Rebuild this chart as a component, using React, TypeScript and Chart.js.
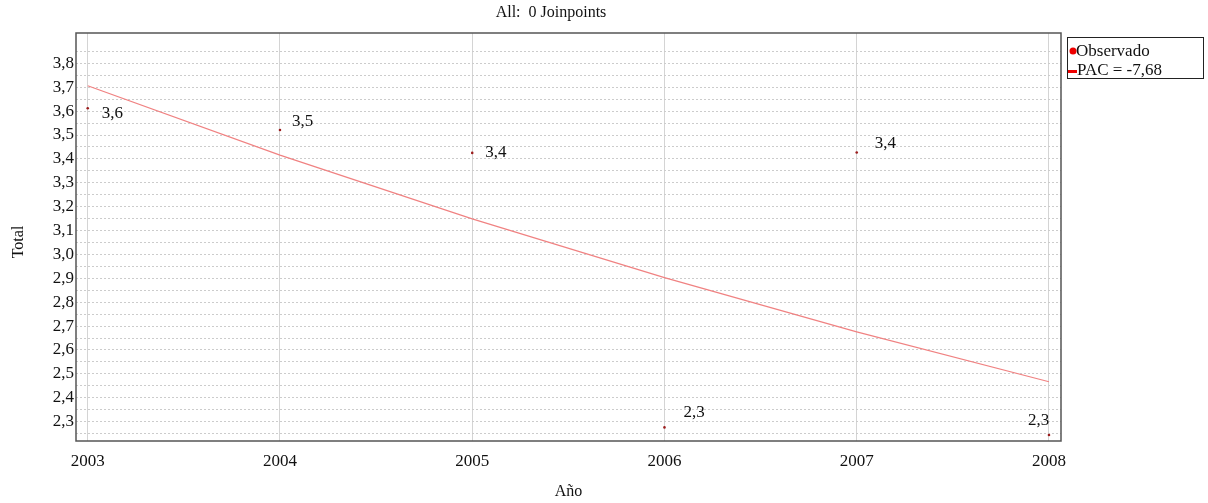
import React, { useEffect, useRef } from "react";
import { Chart, registerables } from "chart.js";

Chart.register(...registerables);

const years = [2003, 2004, 2005, 2006, 2007, 2008];
const observed = [3.612, 3.521, 3.425, 2.276, 3.427, 2.244];
const observedLabels = ["3,6", "3,5", "3,4", "2,3", "3,4", "2,3"];
const fitted = [3.706, 3.416, 3.149, 2.903, 2.676, 2.467];
const titleText = "All:  0 Joinpoints";
const xTitle = "Año";
const yTitle = "Total";
const legendObserved = "Observado";
const legendFit = "PAC = -7,68";

// label offsets relative to each point (dx to left edge, dy to text centre)
const labelOffsets: [number, number][] = [
  [14, 5],
  [12, -8],
  [13, 0],
  [19, -15],
  [18, -9],
  [-21, -14],
];

const FONT = "'Liberation Serif', 'Times New Roman', serif";

export default function App() {
  const ref = useRef<HTMLCanvasElement | null>(null);

  useEffect(() => {
    if (!ref.current) return;

    const overlay = {
      id: "overlay",
      afterDatasetsDraw(chart: any) {
        const ctx = chart.ctx;
        const meta = chart.getDatasetMeta(0);
        ctx.save();
        ctx.fillStyle = "#111";
        ctx.font = `17px ${FONT}`;
        ctx.textAlign = "left";
        ctx.textBaseline = "middle";
        meta.data.forEach((pt: any, i: number) => {
          const [dx, dy] = labelOffsets[i];
          ctx.fillText(observedLabels[i], pt.x + dx, pt.y + dy);
        });
        ctx.restore();
      },
      afterDraw(chart: any) {
        const ctx = chart.ctx;
        const a = chart.chartArea;
        ctx.save();
        // frame
        ctx.strokeStyle = "#555";
        ctx.lineWidth = 1.5;
        ctx.strokeRect(a.left, a.top, a.right - a.left, a.bottom - a.top);
        // title
        ctx.fillStyle = "#111";
        ctx.font = `16px ${FONT}`;
        ctx.textAlign = "center";
        ctx.textBaseline = "middle";
        ctx.fillText(titleText, 551, 13);
        // x title
        ctx.font = `16px ${FONT}`;
        ctx.fillText(xTitle, (a.left + a.right) / 2, 492);
        // y title
        ctx.save();
        ctx.translate(19, 242);
        ctx.rotate(-Math.PI / 2);
        ctx.fillText(yTitle, 0, 0);
        ctx.restore();
        // legend
        ctx.fillStyle = "#fff";
        ctx.fillRect(1067, 37, 137, 42);
        ctx.strokeStyle = "#222";
        ctx.lineWidth = 1;
        ctx.strokeRect(1067.5, 37.5, 136, 41);
        ctx.fillStyle = "#ee0000";
        ctx.beginPath();
        ctx.arc(1073, 51, 3.5, 0, Math.PI * 2);
        ctx.fill();
        ctx.fillRect(1068, 70, 9, 3);
        ctx.fillStyle = "#111";
        ctx.font = `17px ${FONT}`;
        ctx.textAlign = "left";
        ctx.fillText(legendObserved, 1076, 52);
        ctx.fillText(legendFit, 1077, 71);
        ctx.restore();
      },
    };

    const chart = new Chart(ref.current, {
      type: "scatter",
      data: {
        datasets: [
          {
            label: legendObserved,
            data: years.map((y, i) => ({ x: y, y: observed[i] })),
            pointRadius: 1.3,
            pointHoverRadius: 1.3,
            pointBackgroundColor: "#9b1c1c",
            pointBorderWidth: 0,
            showLine: false,
            order: 1,
          },
          {
            label: legendFit,
            data: years.map((y, i) => ({ x: y, y: fitted[i] })),
            showLine: true,
            borderColor: "rgb(240,130,130)",
            borderWidth: 1.2,
            pointRadius: 0,
            tension: 0,
            order: 2,
          },
        ],
      },
      options: {
        responsive: false,
        animation: false,
        layout: { padding: { top: 33, right: 147, bottom: 0, left: 0 } },
        plugins: {
          legend: { display: false },
          title: { display: false },
          tooltip: { enabled: false },
        },
        scales: {
          x: {
            type: "linear",
            min: 2002.939,
            max: 2008.0625,
            afterBuildTicks(scale: any) {
              scale.ticks = years.map((v) => ({ value: v }));
            },
            afterFit(scale: any) {
              scale.height = 62;
            },
            ticks: {
              autoSkip: false,
              maxRotation: 0,
              padding: 10,
              color: "#111",
              font: { family: FONT, size: 17 },
              callback: (v: any) => String(v),
            },
            grid: { color: "#d4d4d4", lineWidth: 1, drawTicks: false },
            border: { display: false },
          },
          y: {
            type: "linear",
            min: 2.219,
            max: 3.927,
            afterBuildTicks(scale: any) {
              const t = [];
              for (let k = 45; k <= 77; k++) t.push({ value: k / 20 });
              scale.ticks = t;
            },
            afterFit(scale: any) {
              scale.width = 76;
            },
            ticks: {
              autoSkip: false,
              padding: 2,
              color: "#111",
              font: { family: FONT, size: 17 },
              callback: (v: any) => {
                const k = Math.round(v * 100);
                return k % 10 === 0 ? (k / 100).toFixed(1).replace(".", ",") : "";
              },
            },
            grid: { color: "#cccccc", lineWidth: 1, drawTicks: false },
            border: { display: false, dash: [2, 2] },
          },
        },
      },
      plugins: [overlay],
    });

    return () => chart.destroy();
  }, []);

  return (
    <div style={{ position: "absolute", left: 0, top: 0, width: 1208, height: 503, background: "#fff" }}>
      <canvas ref={ref} width={1208} height={503} style={{ width: 1208, height: 503, display: "block" }} />
    </div>
  );
}
